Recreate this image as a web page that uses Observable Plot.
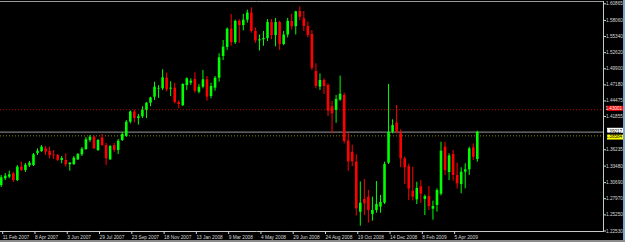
<!DOCTYPE html>
<html><head><meta charset="utf-8">
<script src="https://cdn.jsdelivr.net/npm/d3@7"></script>
<script src="https://cdn.jsdelivr.net/npm/@observablehq/plot@0.6"></script>
<style>
html,body{margin:0;padding:0;background:#000;overflow:hidden;width:625px;height:242px}
#chart{position:relative;width:625px;height:242px}
#bar{position:absolute;left:0;top:240px;width:625px;height:2px;background:#8c8c8c}
#edge{position:absolute;left:623px;top:0;width:2px;height:240px;background:#7aa3d6}
</style></head><body><div id="chart"></div><div id="bar"></div><div id="edge"></div>
<script>
// week labels on the time axis (one every 8 weekly bars)
const dateLabels = ["11 Feb 2007","8 Apr 2007","3 Jun 2007","29 Jul 2007","23 Sep 2007","18 Nov 2007","13 Jan 2008","9 Mar 2008","4 May 2008","29 Jun 2008","24 Aug 2008","19 Oct 2008","14 Dec 2008","8 Feb 2009","5 Apr 2009"];
// price axis labels
const priceTicks = [1.60865,1.58060,1.55340,1.52620,1.49900,1.47180,1.44475,1.41855,1.36235,1.33480,1.30690,1.27970,1.25250,1.22530];
// weekly EURUSD-like OHLC
const opens = [1.3021,1.3134,1.3161,1.3218,1.3105,1.3330,1.3274,1.3353,1.3358,1.3561,1.3594,1.3640,1.3594,1.3532,1.3527,1.3443,1.3443,1.3370,1.3375,1.3454,1.3539,1.3628,1.3780,1.3836,1.3611,1.3820,1.3696,1.3454,1.3696,1.3611,1.3780,1.3848,1.4089,1.4260,1.4150,1.4180,1.4290,1.4409,1.4510,1.4645,1.4652,1.4831,1.4646,1.4663,1.4421,1.4366,1.4708,1.4747,1.4809,1.4595,1.4679,1.4804,1.4522,1.4663,1.4831,1.5197,1.5350,1.5660,1.5430,1.5790,1.5720,1.5810,1.5930,1.5620,1.5460,1.5480,1.5500,1.5770,1.5550,1.5770,1.5400,1.5560,1.5790,1.5700,1.5957,1.5833,1.5703,1.5569,1.4944,1.4680,1.4792,1.4708,1.4350,1.4286,1.4462,1.4540,1.3770,1.3580,1.3414,1.2570,1.2785,1.2824,1.2532,1.2599,1.2656,1.2722,1.3397,1.3920,1.4074,1.3893,1.3471,1.3337,1.2925,1.2778,1.2997,1.2784,1.2834,1.2621,1.2683,1.2874,1.3667,1.3240,1.3544,1.3189,1.3037,1.3245,1.3285,1.3656,1.3460];
const highs = [1.3189,1.3223,1.3262,1.3240,1.3358,1.3414,1.3392,1.3426,1.3561,1.3640,1.3696,1.3679,1.3667,1.3611,1.3544,1.3510,1.3556,1.3409,1.3510,1.3561,1.3662,1.3831,1.3864,1.3856,1.3797,1.3881,1.3729,1.3696,1.3729,1.3797,1.3915,1.4117,1.4280,1.4290,1.4220,1.4350,1.4420,1.4510,1.4764,1.4705,1.4973,1.4916,1.4770,1.4747,1.4450,1.4737,1.4838,1.4821,1.4922,1.4725,1.4961,1.4860,1.4747,1.4860,1.5243,1.5467,1.5680,1.5905,1.5810,1.5820,1.5910,1.5980,1.6020,1.5680,1.5560,1.5620,1.5820,1.5820,1.5840,1.5790,1.5620,1.5840,1.5910,1.5960,1.6035,1.5957,1.5776,1.5636,1.5074,1.4905,1.4821,1.4737,1.4438,1.4539,1.4867,1.4578,1.3900,1.3700,1.3543,1.3081,1.3122,1.2936,1.2824,1.3088,1.2852,1.3414,1.4725,1.4129,1.4371,1.3961,1.3500,1.3380,1.3330,1.3076,1.3105,1.2860,1.3004,1.2757,1.2965,1.3751,1.3751,1.3556,1.3611,1.3397,1.3319,1.3387,1.3667,1.3724,1.3937];
const lows = [1.2987,1.3105,1.3134,1.3071,1.3088,1.3257,1.3240,1.3324,1.3341,1.3527,1.3578,1.3527,1.3471,1.3459,1.3426,1.3387,1.3330,1.3262,1.3358,1.3443,1.3510,1.3611,1.3746,1.3628,1.3594,1.3679,1.3358,1.3443,1.3578,1.3544,1.3763,1.3831,1.4060,1.4080,1.4040,1.4150,1.4150,1.4350,1.4455,1.4490,1.4624,1.4600,1.4522,1.4399,1.4315,1.4354,1.4624,1.4708,1.4578,1.4568,1.4652,1.4443,1.4484,1.4612,1.4764,1.5130,1.5300,1.5370,1.5400,1.5420,1.5630,1.5760,1.5590,1.5420,1.5290,1.5370,1.5450,1.5480,1.5360,1.5300,1.5380,1.5510,1.5640,1.5560,1.5800,1.5619,1.5513,1.4961,1.4652,1.4624,1.4556,1.4185,1.3893,1.4071,1.4443,1.3724,1.3260,1.3340,1.2504,1.2334,1.2514,1.2385,1.2419,1.2553,1.2553,1.2700,1.3375,1.3893,1.3893,1.3320,1.3038,1.2768,1.2760,1.2700,1.2720,1.2514,1.2599,1.2436,1.2570,1.2846,1.3189,1.3105,1.3094,1.2960,1.2881,1.2965,1.3189,1.3443,1.3414];
const closes = [1.3151,1.3178,1.3201,1.3105,1.3330,1.3274,1.3363,1.3397,1.3539,1.3599,1.3667,1.3583,1.3522,1.3522,1.3443,1.3476,1.3370,1.3397,1.3481,1.3544,1.3633,1.3792,1.3836,1.3640,1.3780,1.3696,1.3471,1.3679,1.3611,1.3768,1.3881,1.4089,1.4260,1.4150,1.4180,1.4290,1.4410,1.4499,1.4680,1.4655,1.4838,1.4635,1.4663,1.4421,1.4387,1.4725,1.4821,1.4781,1.4612,1.4679,1.4804,1.4511,1.4691,1.4831,1.5175,1.5354,1.5660,1.5430,1.5790,1.5720,1.5810,1.5930,1.5620,1.5460,1.5480,1.5500,1.5770,1.5550,1.5770,1.5400,1.5560,1.5790,1.5700,1.5950,1.5860,1.5703,1.5552,1.5000,1.4691,1.4792,1.4691,1.4275,1.4231,1.4472,1.4560,1.3763,1.3420,1.3420,1.2627,1.2722,1.2713,1.2599,1.2599,1.2700,1.2734,1.3375,1.3920,1.4033,1.3920,1.3471,1.3320,1.2960,1.2824,1.2970,1.2874,1.2834,1.2666,1.2666,1.2936,1.3599,1.3274,1.3520,1.3189,1.3048,1.3245,1.3285,1.3639,1.3497,1.3920];
// horizontal price levels
const levelRed = 1.43001, levelBid = 1.39217, levelAsk = 1.38584;

const candles = opens.map((o, i) => ({i, o, h: highs[i], l: lows[i], c: closes[i]}));
const tickIdx = dateLabels.map((_, k) => k * 8);
const up = "#00ff00", down = "#ff0000";
const col = d => d.c >= d.o ? up : down;

function levelTag(value, label, bg, fg, shift) {
  return Plot.text([value], {
    y: d => d, text: [label], frameAnchor: "right", textAnchor: "start", dx: 2, dy: shift,
    fill: fg, fontSize: 4.6,
    render(index, scales, values, dims, context, next) {
      const g = next(index, scales, values, dims, context);
      const y = scales.y(value) + shift;
      const r = d3.create("svg:rect")
        .attr("x", dims.width - dims.marginRight + 1.5).attr("y", y - 2.5)
        .attr("width", 18).attr("height", 5).attr("fill", bg).node();
      g.insertBefore(r, g.firstChild);
      return g;
    }
  });
}

const chart = Plot.plot({
  width: 625, height: 242,
  marginLeft: 0, marginRight: 22, marginTop: 1, marginBottom: 11,
  style: {background: "#000", color: "#d8d8d8", fontFamily: "'Liberation Sans', Arial, sans-serif"},
  x: {domain: [-0.1735, 149.27], axis: null},
  y: {domain: [1.22445, 1.61253], axis: null},
  marks: [
    Plot.ruleY([levelRed], {stroke: "#b00000", strokeDasharray: "1,2"}),
    Plot.ruleY([levelBid], {stroke: "#7a7a7a", strokeWidth: 1.2}),
    Plot.ruleY([levelAsk], {stroke: "#8a8a00", strokeDasharray: "1,2"}),
    Plot.ruleX(candles, {x: "i", y1: "l", y2: "h", stroke: col, strokeWidth: 1}),
    Plot.ruleX(candles, {x: "i", y1: "o", y2: "c", stroke: col, strokeWidth: 2.6}),
    Plot.frame({anchor: "top", stroke: "#9a9a9a"}),
    Plot.frame({anchor: "bottom", stroke: "#c8c8c8"}),
    Plot.frame({anchor: "right", stroke: "#c8c8c8"}),
    Plot.axisX({ticks: tickIdx, tickFormat: d => dateLabels[Math.round(d / 8)], tickSize: 3, tickPadding: 1,
      textAnchor: "start", dx: 1.5, fontSize: 4.8, color: "#d8d8d8", label: null}),
    Plot.axisY({anchor: "right", ticks: priceTicks, tickFormat: d => d.toFixed(5), tickSize: 2, tickPadding: 0.5,
      fontSize: 4.7, color: "#d8d8d8", label: null}),
    levelTag(levelRed, levelRed.toFixed(5), "#ff0000", "#ffffff", -0.7),
    levelTag(levelBid, levelBid.toFixed(5), "#ffffff", "#000000", -0.9),
    levelTag(levelAsk, levelAsk.toFixed(5), "#ffff00", "#000000", 0.6)
  ]
});
document.getElementById("chart").appendChild(chart);
</script>
</body></html>
